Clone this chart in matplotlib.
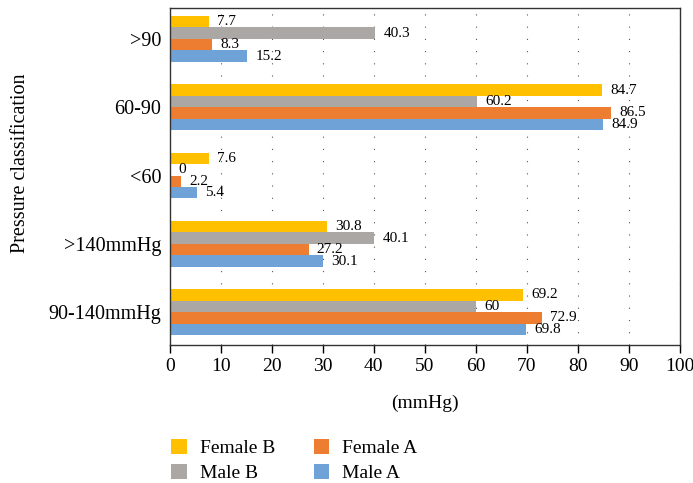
import matplotlib
matplotlib.use("Agg")
import matplotlib.pyplot as plt
import numpy as np

# categories listed bottom -> top
categories = ["90-140mmHg", ">140mmHg", "<60", "60-90", ">90"]
female_b = [69.2, 30.8, 7.6, 84.7, 7.7]
male_b = [60.0, 40.1, 0.0, 60.2, 40.3]
female_a = [72.9, 27.2, 2.2, 86.5, 8.3]
male_a = [69.8, 30.1, 5.4, 84.9, 15.2]

series = [
    ("Female B", female_b, "#FFC000"),
    ("Male B", male_b, "#ABA7A5"),
    ("Female A", female_a, "#ED7D31"),
    ("Male A", male_a, "#6FA3D8"),
]

plt.rcParams["font.family"] = ["Liberation Serif", "DejaVu Serif"]

fig = plt.figure(figsize=(6.93, 4.83), dpi=100)
ax = fig.add_axes([0.245, 0.286, 0.736, 0.697])

y = np.arange(len(categories))
h = 0.168
offsets = [1.5 * h, 0.5 * h, -0.5 * h, -1.5 * h]
handles = {}
for (name, vals, col), off in zip(series, offsets):
    bars = ax.barh(y + off, vals, height=h, color=col, label=name, zorder=2)
    handles[name] = bars
    for yy, v in zip(y, vals):
        ax.text(v + 1.6, yy + off, f"{v:g}", va="center", ha="left",
                fontsize=11, zorder=3)

ax.set_xlim(0, 100)
ax.set_ylim(-0.48, 4.45)
ax.set_xticks(np.arange(0, 101, 10))
ax.set_yticks(y)
ax.set_yticklabels(categories)
ax.tick_params(axis="x", direction="out", length=6, width=1, labelsize=14)
ax.tick_params(axis="y", length=0, labelsize=14.5, pad=6)
ax.xaxis.grid(True, linestyle=(0, (1, 10)), color="#555555", linewidth=0.8, zorder=0)
for s in ax.spines.values():
    s.set_linewidth(1.0)
    s.set_color("#333333")

ax.set_xlabel("(mmHg)", fontsize=14, labelpad=14)
ax.set_ylabel("Pressure classification", fontsize=14.5)
ax.yaxis.set_label_coords(-0.275, 0.54)

# column-wise fill: col 1 = Female B / Male B, col 2 = Female A / Male A
order = ["Female B", "Male B", "Female A", "Male A"]
fig.legend([handles[n] for n in order], order, loc="lower left",
           bbox_to_anchor=(0.222, -0.035), ncol=2, frameon=False, fontsize=14,
           handlelength=0.8, handleheight=0.8, columnspacing=2.0,
           labelspacing=0.35, handletextpad=0.65)

fig.savefig("out.png", dpi=100)
